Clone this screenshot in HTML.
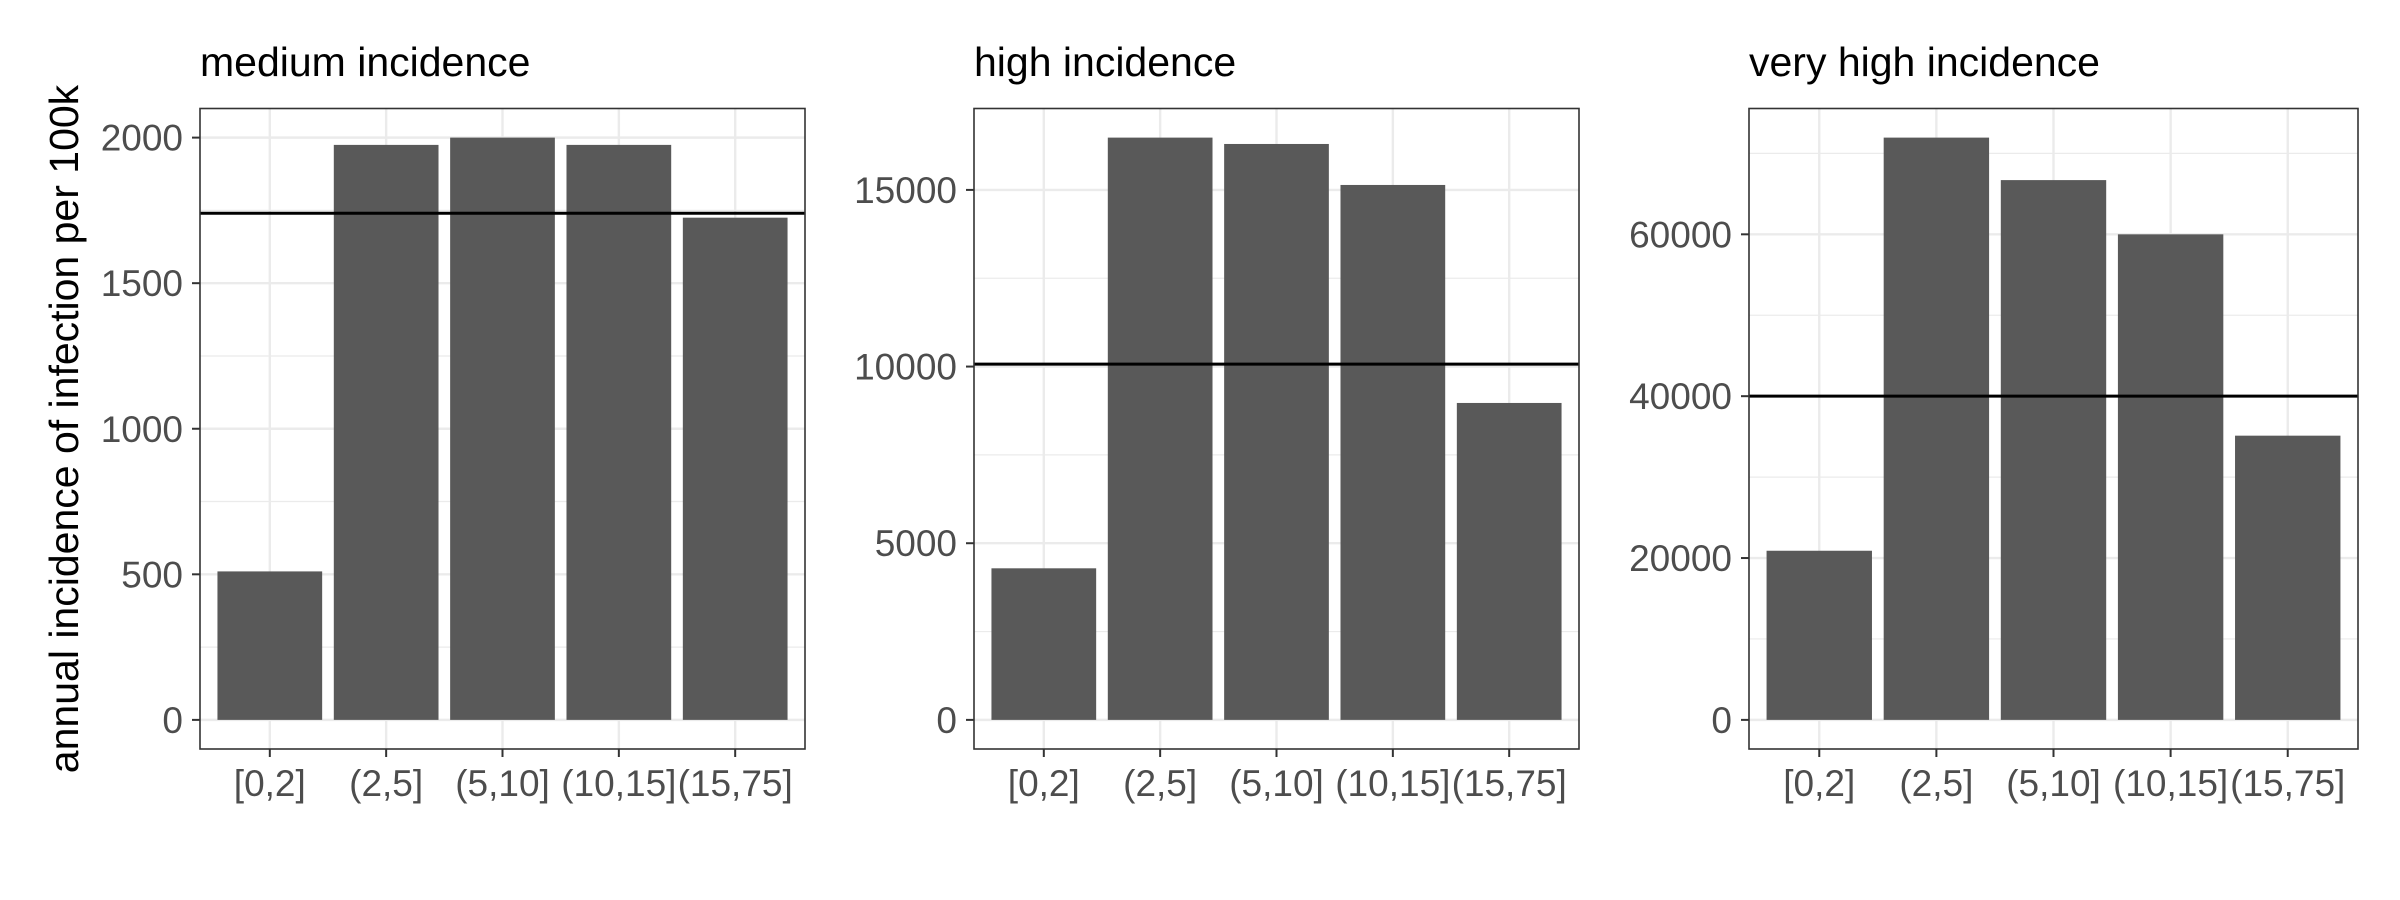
<!DOCTYPE html>
<html><head><meta charset="utf-8"><style>
html,body{margin:0;padding:0;background:#fff;}
svg{display:block;font-family:"Liberation Sans",Arial,sans-serif;}
</style></head><body>
<svg id="chart" width="2400" height="900" viewBox="0 0 2400 900">
<rect width="2400" height="900" fill="#fff"/>
<text transform="translate(78,429) rotate(-90)" text-anchor="middle" font-size="41" fill="#000">annual incidence of infection per 100k</text>
</svg>
<script>
const categories = ["[0,2]","(2,5]","(5,10]","(10,15]","(15,75]"];
const panelTitles = ["medium incidence","high incidence","very high incidence"];
const mediumValues = [510, 1975, 2000, 1975, 1725];
const highValues = [4290, 16480, 16300, 15140, 8970];
const veryHighValues = [20900, 71950, 66700, 60000, 35120];
const referenceLines = [1740, 10070, 40000];
const mediumTicks = [0, 500, 1000, 1500, 2000];
const highTicks = [0, 5000, 10000, 15000];
const veryHighTicks = [0, 20000, 40000, 60000];

const svgEl = document.getElementById('chart');
const NS = 'http://www.w3.org/2000/svg';
function mk(tag, attrs, parent){
  const e = document.createElementNS(NS, tag);
  for (const k in attrs) e.setAttribute(k, attrs[k]);
  (parent||svgEl).appendChild(e);
  return e;
}
const panels = [
  {x0:200, x1:805, values:mediumValues, ticks:mediumTicks, line:referenceLines[0], title:panelTitles[0], slug:'medium'},
  {x0:974, x1:1579, values:highValues, ticks:highTicks, line:referenceLines[1], title:panelTitles[1], slug:'high'},
  {x0:1749, x1:2358, values:veryHighValues, ticks:veryHighTicks, line:referenceLines[2], title:panelTitles[2], slug:'very-high'}
];
const plotTop = 108.5, plotBottom = 749;
panels.forEach(p => {
  const g = mk('g', {});
  
  
  const maxV = Math.max(...p.values, p.line);
  const lo = -maxV*0.05, hi = maxV*1.05;
  const yS = v => plotBottom - (v - lo)/(hi - lo)*(plotBottom - plotTop);
  const unit = (p.x1 - p.x0)/5.2;
  const xS = i => p.x0 + (i + 0.6)*unit;
  const step = p.ticks[1] - p.ticks[0];
  for (let t = p.ticks[0] - step/2; t <= hi; t += step) {
    if (yS(t) > plotBottom || yS(t) < plotTop) continue;
    mk('line', {x1:p.x0, x2:p.x1, y1:yS(t), y2:yS(t), stroke:'#ebebeb', 'stroke-width':1.2}, g);
  }
  p.ticks.forEach(t => mk('line', {x1:p.x0, x2:p.x1, y1:yS(t), y2:yS(t), stroke:'#ebebeb', 'stroke-width':2.4}, g));
  categories.forEach((c,i) => mk('line', {x1:xS(i), x2:xS(i), y1:plotTop, y2:plotBottom, stroke:'#ebebeb', 'stroke-width':2.4}, g));
  p.values.forEach((v,i) => {
    const r = mk('rect', {x:xS(i)-0.45*unit, width:0.9*unit, y:yS(v), height:yS(0)-yS(v), fill:'#595959'}, g);
    
    
  });
  const hl = mk('line', {x1:p.x0, x2:p.x1, y1:yS(p.line), y2:yS(p.line), stroke:'#000', 'stroke-width':3}, g);
  
  
  mk('rect', {x:p.x0, y:plotTop, width:p.x1-p.x0, height:plotBottom-plotTop, fill:'none', stroke:'#333', 'stroke-width':1.6}, g);
  p.ticks.forEach(t => {
    mk('line', {x1:p.x0-8, x2:p.x0, y1:yS(t), y2:yS(t), stroke:'#333', 'stroke-width':2}, g);
    const tx = mk('text', {x:p.x0-17, y:yS(t)+13, 'text-anchor':'end', 'font-size':37, fill:'#4d4d4d'}, g);
    tx.textContent = t;
    
    
  });
  categories.forEach((c,i) => {
    mk('line', {x1:xS(i), x2:xS(i), y1:plotBottom, y2:plotBottom+8, stroke:'#333', 'stroke-width':2}, g);
    const tx = mk('text', {x:xS(i), y:plotBottom+47, 'text-anchor':'middle', 'font-size':37, fill:'#4d4d4d'}, g);
    tx.textContent = c;
    
    
  });
  const tt = mk('text', {x:p.x0, y:76, 'font-size':41, fill:'#000'}, g);
  tt.textContent = p.title;
  
  
});
</script>
</body></html>
